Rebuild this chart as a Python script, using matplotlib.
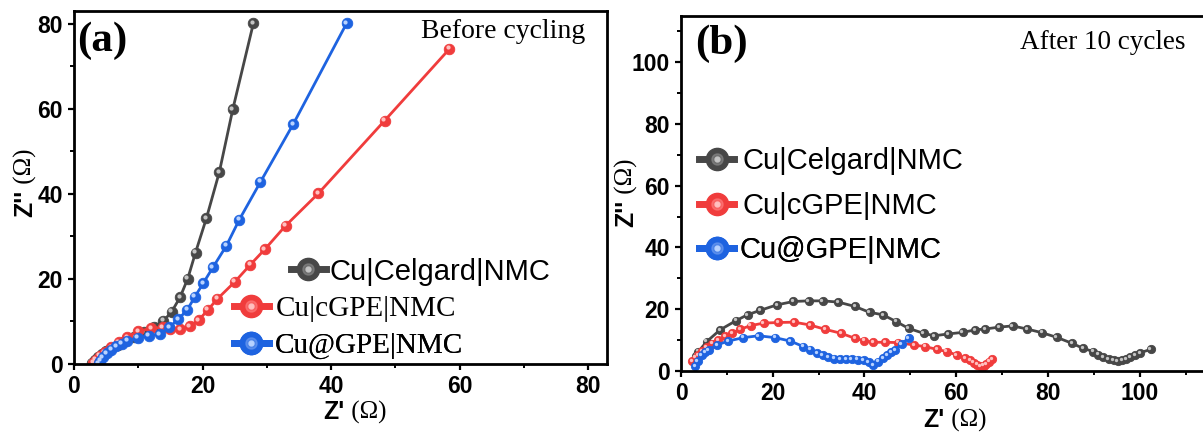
import matplotlib
matplotlib.use('Agg')
import matplotlib.pyplot as plt
import matplotlib.transforms as mtransforms
from matplotlib.lines import Line2D
from matplotlib.legend_handler import HandlerTuple

SANS = 'Liberation Sans'
SERIF = 'Liberation Serif'

# ---- data, panel (a): before cycling ----
black_a_x = [2.8, 3.2, 3.7, 4.3, 5.0, 5.8, 6.8, 8.0, 9.4, 10.9, 12.4, 13.9, 15.2, 16.5, 17.7, 18.9, 20.6, 22.6, 24.7, 27.9]
black_a_y = [0.3, 0.9, 1.6, 2.3, 3.0, 3.7, 4.5, 5.4, 6.4, 7.5, 8.7, 10.1, 12.3, 15.7, 20.1, 26.2, 34.3, 45.1, 59.9, 80.1]
red_a_x = [3.0, 3.4, 4.0, 4.8, 5.8, 7.0, 8.3, 10.0, 12.0, 13.8, 15.0, 16.5, 18.0, 19.4, 20.8, 22.3, 25.0, 27.4, 29.7, 32.9, 38.0, 48.3, 58.4]
red_a_y = [0.3, 1.0, 1.9, 2.8, 3.9, 5.1, 6.3, 7.7, 8.4, 8.6, 8.3, 8.2, 8.9, 10.3, 12.7, 15.3, 19.3, 23.3, 27.0, 32.5, 40.1, 57.2, 74.1]
blue_a_x = [3.9, 4.1, 4.5, 5.1, 5.8, 6.6, 7.4, 8.3, 9.9, 11.6, 13.3, 14.8, 16.2, 17.6, 18.8, 20.1, 21.6, 23.7, 25.7, 29.0, 34.1, 42.4]
blue_a_y = [0.2, 0.8, 1.6, 2.5, 3.4, 4.2, 4.8, 5.4, 6.1, 6.7, 7.0, 8.6, 10.5, 12.7, 15.8, 19.0, 22.7, 27.8, 33.9, 42.8, 56.4, 80.1]

# ---- data, panel (b): after 10 cycles ----
black_b_x = [3.3, 3.8, 5.6, 8.5, 12.0, 14.5, 17.2, 20.9, 24.5, 27.8, 30.9, 34.3, 37.9, 41.1, 44.0, 46.9, 49.6, 52.9,
             55.2, 58.3, 61.4, 64.1, 66.3, 69.4, 72.3, 75.4, 78.7, 81.9, 85.2, 87.7, 89.9, 91.0, 92.1, 93.2, 94.3,
             95.2, 96.1, 97.0, 97.9, 99.0, 100.1, 102.4]
black_b_y = [5.0, 6.3, 9.5, 13.3, 16.3, 18.2, 19.6, 21.4, 22.5, 22.7, 22.7, 22.3, 20.9, 19.0, 18.2, 16.0, 13.8, 12.2,
             11.4, 12.0, 12.5, 13.3, 13.6, 14.2, 14.6, 13.6, 12.4, 10.9, 9.0, 7.3, 6.3, 5.3, 4.4, 3.8, 3.4,
             3.3, 3.4, 3.8, 4.4, 5.1, 5.9, 7.0]
red_b_x = [2.5, 3.2, 3.8, 4.6, 5.6, 6.8, 8.1, 9.6, 11.1, 12.9, 15.2, 18.0, 21.2, 24.7, 28.1, 31.4, 34.9, 37.9, 39.9,
           41.9, 44.5, 47.4, 50.8, 53.2, 55.8, 57.9, 60.1, 61.9, 63.0, 63.8, 64.5, 65.2, 66.0, 66.5, 67.2, 67.8]
red_b_y = [3.3, 4.3, 5.2, 6.5, 7.7, 8.9, 10.1, 11.2, 12.2, 13.5, 14.7, 15.5, 15.7, 15.8, 14.9, 13.5, 12.2, 10.6, 9.8,
           9.3, 9.3, 9.2, 8.4, 7.9, 7.0, 6.3, 5.2, 4.1, 3.4, 2.7, 2.1, 1.6, 1.7, 2.3, 3.0, 3.8]
blue_b_x = [3.1, 3.6, 4.5, 5.2, 6.0, 7.8, 10.3, 13.6, 16.9, 20.5, 23.8, 26.7, 28.2, 29.6, 30.9, 32.1, 33.4, 34.7,
            36.0, 37.2, 38.5, 39.8, 40.9, 41.9, 43.0, 44.0, 44.9, 45.8, 46.7, 48.1, 49.6]
blue_b_y = [1.6, 3.3, 5.2, 6.0, 6.8, 8.4, 9.7, 10.8, 11.4, 10.8, 9.7, 7.9, 6.9, 5.9, 5.1, 4.4, 4.0, 3.8,
            3.8, 3.8, 3.7, 3.5, 2.8, 1.9, 3.0, 4.1, 5.2, 6.0, 6.8, 8.8, 10.6]

labels = ['Cu|Celgard|NMC', 'Cu|cGPE|NMC', 'Cu@GPE|NMC']
colors = ['#474747', '#f03c3c', '#1e63e0']
lights = ['#c4c4c4', '#ffc0c0', '#b8d2ff']
mids = ['#8a8a8a', '#ff7e7e', '#6f9cf0']

fig = plt.figure(figsize=(12.03, 4.32), dpi=100)
ax1 = fig.add_axes([74 / 1203, 68 / 432, 533 / 1203, 353 / 432])
ax2 = fig.add_axes([681 / 1203, 61 / 432, 522 / 1203, 355.3 / 432])


def sphere(ax, x, y, color, light, ms):
    ax.plot(x, y, '-', color=color, lw=2.0, marker='o', ms=ms, mfc=color, mec=color, mew=0.6)
    shift = mtransforms.ScaledTranslation(-ms * 0.15 / 72, ms * 0.15 / 72, fig.dpi_scale_trans)
    ax.plot(x, y, 'o', color=light, ms=ms * 0.4, mew=0, transform=ax.transData + shift)


def handle(color, mid, light):
    base = Line2D([], [], color=color, lw=5, marker='o', ms=16, mfc=color, mec=color)
    glow = Line2D([], [], ls='none', marker='o', ms=8, mfc=mid, mec=mid, alpha=0.6)
    hl = Line2D([], [], ls='none', marker='o', ms=3.5, mfc=light, mec=light)
    return (base, glow, hl)


sphere(ax1, black_a_x, black_a_y, colors[0], lights[0], 7.6)
sphere(ax1, red_a_x, red_a_y, colors[1], lights[1], 7.6)
sphere(ax1, blue_a_x, blue_a_y, colors[2], lights[2], 7.6)

sphere(ax2, black_b_x, black_b_y, colors[0], lights[0], 6.0)
sphere(ax2, red_b_x, red_b_y, colors[1], lights[1], 6.0)
sphere(ax2, blue_b_x, blue_b_y, colors[2], lights[2], 6.0)

ax1.set_xlim(0, 82.9)
ax1.set_ylim(0, 83)
ax1.set_xticks([0, 20, 40, 60, 80])
ax1.set_xticks([10, 30, 50, 70], minor=True)
ax1.set_yticks([0, 20, 40, 60, 80])
ax1.set_yticks([10, 30, 50, 70], minor=True)

ax2.set_xlim(0, 113.8)
ax2.set_ylim(0, 115)
ax2.set_xticks([0, 20, 40, 60, 80, 100])
ax2.set_xticks([10, 30, 50, 70, 90, 110], minor=True)
ax2.set_yticks([0, 20, 40, 60, 80, 100])
ax2.set_yticks([10, 30, 50, 70, 90, 110], minor=True)
ax2.spines['right'].set_visible(False)

for ax in (ax1, ax2):
    for s in ax.spines.values():
        s.set_linewidth(2.0)
    ax.tick_params(which='major', direction='out', length=4.5, width=1.6, pad=3.5)
    ax.tick_params(which='minor', direction='out', length=3, width=1.4)
    for t in ax.get_xticklabels() + ax.get_yticklabels():
        t.set_fontfamily(SANS)
        t.set_fontweight('bold')
        t.set_fontsize(16.5)

# legends, one entry each, placed like the original
leg_pos_a = [(0.407, 0.262, 0.13, SANS), (0.300, 0.157, 0.25, SERIF), (0.300, 0.0516, 0.2, SERIF)]
leg_pos_b = [(0.0345, 0.591, 0.3, SANS), (0.0345, 0.464, 0.3, SANS), (0.0345, 0.341, 0.2, SANS)]
for ax, pos in ((ax1, leg_pos_a), (ax2, leg_pos_b)):
    for i, (lx, ly, pad, fam) in enumerate(pos):
        leg = ax.legend([handle(colors[i], mids[i], lights[i])], [labels[i]], loc='center left',
                        bbox_to_anchor=(lx, ly), frameon=False, borderpad=0, borderaxespad=0,
                        handlelength=1.2, handletextpad=pad,
                        handler_map={tuple: HandlerTuple(ndivide=1, pad=0)},
                        prop={'family': fam, 'size': 21})
        ax.add_artist(leg)

ax1.text(0.005, 0.887, '(a)', transform=ax1.transAxes, family=SERIF, fontweight='bold', fontsize=31)
ax2.text(0.027, 0.892, '(b)', transform=ax2.transAxes, family=SERIF, fontweight='bold', fontsize=31)
ax1.text(0.960, 0.9235, 'Before cycling', transform=ax1.transAxes, ha='right', family=SERIF, fontsize=20)
ax2.text(0.967, 0.905, 'After 10 cycles', transform=ax2.transAxes, ha='right', family=SERIF, fontsize=19.5)

# axis titles: bold sans Z, serif (Ω)
fig.text(345 / 1203, 1 - 419 / 432, "Z'", ha='right', va='baseline', family=SANS, fontweight='bold', fontsize=18)
fig.text(345 / 1203, 1 - 419 / 432, " (Ω)", ha='left', va='baseline', family=SERIF, fontsize=18)
fig.text(945 / 1203, 1 - 427 / 432, "Z'", ha='right', va='baseline', family=SANS, fontweight='bold', fontsize=18)
fig.text(945 / 1203, 1 - 427 / 432, " (Ω)", ha='left', va='baseline', family=SERIF, fontsize=18)

fig.text(25 / 1203, 1 - 190 / 432, "Z''", rotation=90, ha='center', va='top', family=SANS, fontweight='bold', fontsize=18)
fig.text(25 / 1203, 1 - 190 / 432, " (Ω)", rotation=90, ha='center', va='bottom', family=SERIF, fontsize=18)
fig.text(626 / 1203, 1 - 200 / 432, "Z''", rotation=90, ha='center', va='top', family=SANS, fontweight='bold', fontsize=18)
fig.text(626 / 1203, 1 - 200 / 432, " (Ω)", rotation=90, ha='center', va='bottom', family=SERIF, fontsize=18)

fig.savefig('out.png', dpi=100, facecolor='white')
